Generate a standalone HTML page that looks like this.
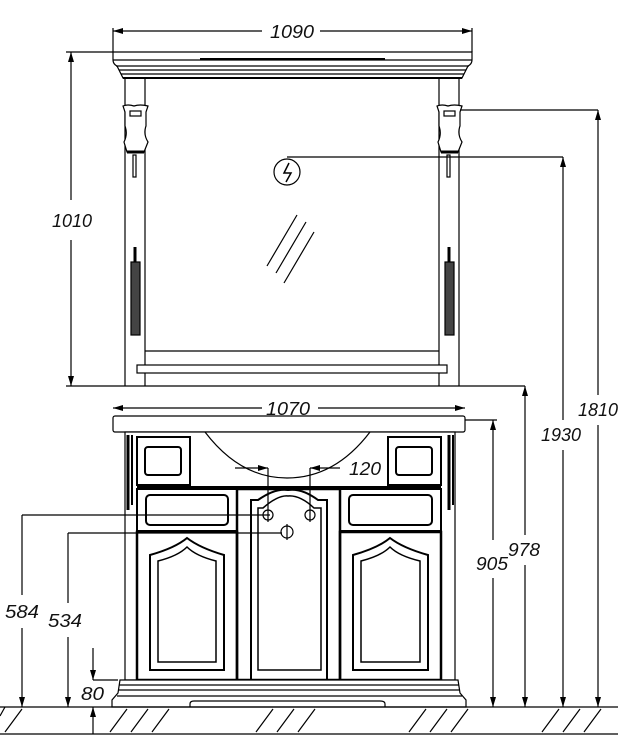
<!DOCTYPE html>
<html><head><meta charset="utf-8"><style>
html,body{margin:0;padding:0;background:#fff;}
svg{display:block;}
text{font-family:"Liberation Sans",sans-serif;font-style:italic;font-size:18px;fill:#111;}
</style></head><body>
<svg width="618" height="751" viewBox="0 0 618 751" xmlns="http://www.w3.org/2000/svg">
<defs>
<marker id="a" viewBox="0 0 10 6" refX="10" refY="3" markerWidth="10" markerHeight="6" orient="auto-start-reverse" markerUnits="userSpaceOnUse"><path d="M0,0 L10,3 L0,6 z" fill="#000"/></marker>
</defs>
<g stroke="#000" fill="none" stroke-width="1.2">
<line x1="113" y1="31" x2="262" y2="31" marker-start="url(#a)"/>
<line x1="320" y1="31" x2="472" y2="31" marker-end="url(#a)"/>
<line x1="113" y1="28" x2="113" y2="52"/><line x1="472" y1="28" x2="472" y2="52"/>
<path d="M66,52 H472 V60 Q472,64 468,66 L462,78 H123 L117,66 Q113,64 113,60 V52"/>
<line x1="113" y1="60" x2="472" y2="60"/>
<line x1="200" y1="59" x2="385" y2="59" stroke-width="2"/>
<line x1="116" y1="66" x2="469" y2="66"/>
<line x1="119" y1="70" x2="466" y2="70"/>
<line x1="121" y1="74" x2="464" y2="74"/>
<line x1="123" y1="78" x2="462" y2="78" stroke-width="2"/>
<line x1="125" y1="78" x2="125" y2="386"/><line x1="145" y1="78" x2="145" y2="386"/>
<line x1="439" y1="78" x2="439" y2="386"/><line x1="459" y1="78" x2="459" y2="386"/>
<g id="sc">
<path d="M123,106 Q128,104 134,106 Q140,104 148,106 L146,112 V126 Q143,134 148,142 L144,152 H127 L124,142 Q128,134 125,126 V112 Z" fill="#fff"/>
<rect x="130" y="111" width="11" height="5"/>
<line x1="127" y1="152" x2="144" y2="152" stroke-width="3"/>
<rect x="133" y="155" width="3" height="22" fill="#fff"/>
<rect x="131" y="262" width="9" height="73" fill="#444"/>
<line x1="135" y1="247" x2="135" y2="262" stroke-width="3"/>
</g>
<use href="#sc" transform="translate(314,0)"/>
<line x1="145" y1="351" x2="439" y2="351"/>
<rect x="137" y="365" width="310" height="8" fill="#fff"/>
<line x1="267" y1="266" x2="297" y2="215"/><line x1="276" y1="273" x2="306" y2="222"/><line x1="284" y1="283" x2="314" y2="232"/>
<circle cx="287" cy="172" r="13"/>
<path d="M289,163 L284,173 H291 L286,182" stroke-width="1.5"/>
<line x1="287" y1="157" x2="563" y2="157"/>
<line x1="460" y1="110" x2="598" y2="110"/>
<line x1="71" y1="52" x2="71" y2="200" marker-start="url(#a)"/>
<line x1="71" y1="240" x2="71" y2="386" marker-end="url(#a)"/>
<line x1="66" y1="386" x2="525" y2="386"/>
<line x1="598" y1="110" x2="598" y2="395" marker-start="url(#a)"/>
<line x1="598" y1="425" x2="598" y2="707" marker-end="url(#a)"/>
<line x1="563" y1="157" x2="563" y2="420" marker-start="url(#a)"/>
<line x1="563" y1="450" x2="563" y2="707" marker-end="url(#a)"/>
<line x1="525" y1="386" x2="525" y2="535" marker-start="url(#a)"/>
<line x1="525" y1="565" x2="525" y2="707" marker-end="url(#a)"/>
<line x1="493" y1="420" x2="493" y2="540" marker-start="url(#a)"/>
<line x1="493" y1="578" x2="493" y2="707" marker-end="url(#a)"/>
<line x1="465" y1="420" x2="497" y2="420"/>
<line x1="113" y1="408" x2="262" y2="408" marker-start="url(#a)"/>
<line x1="318" y1="408" x2="465" y2="408" marker-end="url(#a)"/>
<rect x="113" y="416" width="352" height="16" rx="2" fill="#fff"/>
<rect x="125" y="432" width="330" height="248" fill="#fff"/>
<line x1="128" y1="435" x2="128" y2="510" stroke-width="3"/><line x1="132" y1="435" x2="132" y2="505" stroke-width="2"/>
<line x1="449" y1="435" x2="449" y2="510" stroke-width="3"/><line x1="453" y1="435" x2="453" y2="505" stroke-width="2"/>
<path d="M205,432 Q240,478 287,478 Q335,478 370,432"/>
<rect x="137" y="437" width="53" height="48" stroke-width="2"/>
<rect x="145" y="447" width="36" height="28" rx="3" stroke-width="2"/>
<rect x="388" y="437" width="53" height="48" stroke-width="2"/>
<rect x="396" y="447" width="36" height="28" rx="3" stroke-width="2"/>
<line x1="137" y1="487" x2="441" y2="487" stroke-width="2"/>
<rect x="137" y="489" width="100" height="42" stroke-width="2"/>
<rect x="146" y="495" width="82" height="30" rx="4" stroke-width="2"/>
<rect x="340" y="489" width="101" height="42" stroke-width="2"/>
<rect x="349" y="495" width="83" height="30" rx="4" stroke-width="2"/>
<rect x="237" y="489" width="103" height="191" stroke-width="2.5"/>
<path d="M251,680 V500 H258 Q275,488 288,490 Q302,488 318,500 H327 V680" stroke-width="2"/>
<path d="M258,670 V508 H263 Q278,495 288,496 Q300,495 314,508 H321 V670 Z" stroke-width="1.5"/>
<rect x="137" y="532" width="100" height="148" stroke-width="2.5"/>
<path d="M150,670 V555 Q175,548 187,538 Q200,548 224,555 V670 Z" stroke-width="2"/>
<path d="M158,662 V561 Q178,556 187,547 Q196,556 216,561 V662 Z" stroke-width="1.5"/>
<rect x="340" y="532" width="101" height="148" stroke-width="2.5"/>
<path d="M353,670 V555 Q378,548 390,538 Q403,548 428,555 V670 Z" stroke-width="2"/>
<path d="M361,662 V561 Q381,556 390,547 Q399,556 420,561 V662 Z" stroke-width="1.5"/>
<path d="M120,680 H458 L460,693 L466,700 V707 H112 V700 L118,693 Z" fill="#fff"/>
<line x1="119" y1="685" x2="459" y2="685"/><line x1="118" y1="690" x2="460" y2="690"/><line x1="117" y1="696" x2="462" y2="696"/>
<path d="M190,707 V704 Q190,701 194,701 H380 Q385,701 385,704 V707"/>
<circle cx="268" cy="515" r="5"/><circle cx="310" cy="515" r="5"/><circle cx="287" cy="532" r="6"/>
<line x1="287" y1="524" x2="287" y2="540"/>
<line x1="268" y1="468" x2="268" y2="522"/><line x1="310" y1="468" x2="310" y2="522"/>
<line x1="235" y1="468" x2="268" y2="468" marker-end="url(#a)"/>
<line x1="340" y1="468" x2="310" y2="468" marker-end="url(#a)"/>
<line x1="22" y1="515" x2="270" y2="515"/>
<line x1="68" y1="533" x2="282" y2="533"/>
<line x1="22" y1="515" x2="22" y2="595"/><line x1="22" y1="628" x2="22" y2="707" marker-end="url(#a)"/>
<line x1="68" y1="533" x2="68" y2="603"/><line x1="68" y1="637" x2="68" y2="707" marker-end="url(#a)"/>
<line x1="93" y1="648" x2="93" y2="680" marker-end="url(#a)"/>
<line x1="93" y1="734" x2="93" y2="707" marker-end="url(#a)"/>
<line x1="93" y1="680" x2="118" y2="680"/>
<line x1="0" y1="707" x2="618" y2="707"/>
<line x1="0" y1="734" x2="618" y2="734"/>
<path d="M0,716 L5,707 M5,732 L22,709 M110,732 L127,709 M131,732 L148,709 M152,732 L169,709 M256,732 L273,709 M277,732 L294,709 M298,732 L315,709 M409,732 L426,709 M430,732 L447,709 M451,732 L468,709 M542,732 L559,709 M563,732 L580,709 M584,732 L601,709"/>
</g>
<text x="270" y="38" textLength="44" lengthAdjust="spacingAndGlyphs">1090</text>
<text x="266" y="415" textLength="44" lengthAdjust="spacingAndGlyphs">1070</text>
<text x="349" y="475" textLength="32" lengthAdjust="spacingAndGlyphs">120</text>
<text x="52" y="227" textLength="40" lengthAdjust="spacingAndGlyphs">1010</text>
<text x="578" y="416" textLength="40" lengthAdjust="spacingAndGlyphs">1810</text>
<text x="541" y="441" textLength="40" lengthAdjust="spacingAndGlyphs">1930</text>
<text x="508" y="556" textLength="32" lengthAdjust="spacingAndGlyphs">978</text>
<text x="476" y="570" textLength="32" lengthAdjust="spacingAndGlyphs">905</text>
<text x="5" y="618" textLength="34" lengthAdjust="spacingAndGlyphs">584</text>
<text x="48" y="627" textLength="34" lengthAdjust="spacingAndGlyphs">534</text>
<text x="81" y="700" textLength="23" lengthAdjust="spacingAndGlyphs">80</text>
</svg>
</body></html>
